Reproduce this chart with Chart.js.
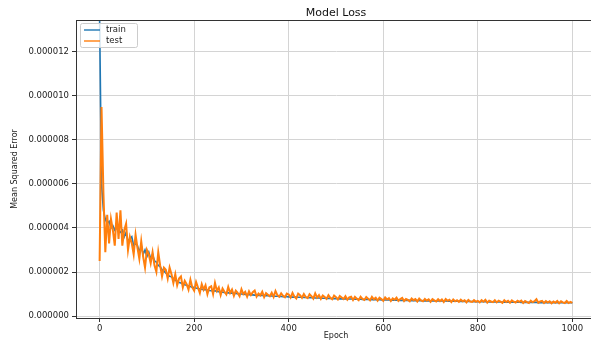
<!DOCTYPE html>
<html>
<head>
<meta charset="utf-8">
<script src="https://cdn.jsdelivr.net/npm/chart.js@4.4.1/dist/chart.umd.min.js"></script>
<style>
  html, body { margin: 0; padding: 0; background: #fff; overflow: hidden; }
  canvas { display: block; }
</style>
</head>
<body>
<canvas id="lossChart" width="600" height="341"></canvas>
<script>
// loss values are in units of 1e-6, one value every 4 epochs
var epochStep = 4;
var chartTitle = 'Model Loss';
var seriesNames = ['train', 'test'];
var xTicks = [0, 200, 400, 600, 800, 1000];
var yTicks = [0, 2, 4, 6, 8, 10, 12];

var trainLoss = [
  13.4, 6.0, 4.8, 4.4, 4.2, 4.3, 4.0, 4.1, 3.9, 4.0,
  3.9, 3.8, 3.9, 3.6, 3.8, 3.4, 3.5, 3.6, 3.2, 3.3,
  3.2, 2.9, 3.2, 2.8, 3.0, 2.7, 2.9, 2.6, 2.8, 2.5,
  2.45, 2.3, 2.25, 2.1, 2.05, 1.95, 1.9, 1.8, 1.78, 1.7,
  1.62, 1.58, 1.52, 1.5, 1.45, 1.42, 1.4, 1.36, 1.34, 1.3,
  1.3, 1.27, 1.25, 1.23, 1.22, 1.2, 1.19, 1.18, 1.16, 1.15,
  1.14, 1.15, 1.12, 1.1, 1.11, 1.08, 1.07, 1.06, 1.05, 1.05,
  1.04, 1.03, 1.02, 1.01, 1.0, 1.0, 0.99, 0.98, 0.98, 0.97,
  0.96, 0.96, 0.95, 0.95, 0.94, 0.94, 0.93, 0.93, 0.92, 0.92,
  0.91, 0.91, 0.9, 0.9, 0.9, 0.89, 0.89, 0.88, 0.88, 0.88,
  0.87, 0.87, 0.86, 0.86, 0.86, 0.85, 0.85, 0.85, 0.84, 0.84,
  0.84, 0.83, 0.83, 0.83, 0.82, 0.82, 0.82, 0.81, 0.81, 0.81,
  0.8, 0.8, 0.8, 0.79, 0.79, 0.79, 0.79, 0.78, 0.78, 0.78,
  0.78, 0.77, 0.77, 0.77, 0.77, 0.76, 0.76, 0.76, 0.76, 0.75,
  0.75, 0.75, 0.75, 0.75, 0.74, 0.74, 0.74, 0.74, 0.74, 0.73,
  0.73, 0.73, 0.73, 0.73, 0.72, 0.72, 0.72, 0.72, 0.72, 0.71,
  0.71, 0.71, 0.71, 0.71, 0.71, 0.7, 0.7, 0.7, 0.7, 0.7,
  0.7, 0.69, 0.69, 0.69, 0.69, 0.69, 0.69, 0.68, 0.68, 0.68,
  0.68, 0.68, 0.68, 0.68, 0.67, 0.67, 0.67, 0.67, 0.67, 0.67,
  0.67, 0.66, 0.66, 0.66, 0.66, 0.66, 0.66, 0.66, 0.65, 0.65,
  0.65, 0.65, 0.65, 0.65, 0.65, 0.65, 0.64, 0.64, 0.64, 0.64,
  0.64, 0.64, 0.64, 0.64, 0.63, 0.63, 0.63, 0.63, 0.63, 0.63,
  0.63, 0.63, 0.63, 0.62, 0.62, 0.62, 0.62, 0.62, 0.62, 0.62,
  0.62, 0.62, 0.61, 0.61, 0.61, 0.61, 0.61, 0.61, 0.61, 0.61,
  0.61, 0.6, 0.6, 0.6, 0.6, 0.6, 0.6, 0.6, 0.6, 0.6,
  0.6
];

var testLoss = [
  2.5, 9.5, 5.6, 2.9, 4.6, 3.3, 4.4, 3.9, 3.2, 4.7,
  3.5, 4.8, 3.2, 3.9, 4.2, 3.0, 3.6, 3.3, 2.8, 3.7,
  3.1, 2.6, 3.4, 2.7, 2.2, 3.0, 2.8, 2.4, 2.9, 2.3,
  2.0, 2.9, 2.3, 1.8, 2.2, 2.1, 1.7, 2.2, 1.9, 1.5,
  1.9, 1.4, 1.7, 1.8, 1.3, 1.6, 1.45, 1.2, 1.65, 1.3,
  1.15, 1.55, 1.3, 1.05, 1.45, 1.2, 1.4, 1.0, 1.3, 1.35,
  1.0, 1.5, 1.15, 1.3, 0.95, 1.25, 1.1, 0.98, 1.32, 1.05,
  1.2, 0.92, 1.15, 1.05, 0.9, 1.22, 1.0, 1.1, 0.88, 1.12,
  0.95, 1.08, 1.16, 0.88, 1.02, 0.94, 1.1, 0.86, 1.04, 0.97,
  0.9, 1.06, 0.87, 1.14, 0.95, 0.88, 1.03, 0.92, 0.85, 1.02,
  0.98, 0.84, 1.05, 0.88, 0.8, 1.02, 0.95, 0.83, 1.0, 0.86,
  0.81, 0.99, 0.9, 0.79, 1.03, 0.84, 0.95, 0.78, 0.93, 0.86,
  0.78, 0.95, 0.83, 0.76, 0.93, 0.86, 0.75, 0.91, 0.84, 0.77,
  0.9, 0.74, 0.85, 0.88, 0.73, 0.87, 0.79, 0.72, 0.88, 0.78,
  0.73, 0.86, 0.79, 0.71, 0.87, 0.76, 0.83, 0.7, 0.83, 0.77,
  0.69, 0.84, 0.75, 0.81, 0.68, 0.8, 0.74, 0.83, 0.69, 0.77,
  0.82, 0.68, 0.77, 0.73, 0.67, 0.8, 0.72, 0.77, 0.66, 0.79,
  0.71, 0.67, 0.78, 0.7, 0.76, 0.65, 0.77, 0.71, 0.66, 0.76,
  0.68, 0.75, 0.64, 0.77, 0.69, 0.74, 0.63, 0.75, 0.67, 0.72,
  0.64, 0.74, 0.67, 0.72, 0.62, 0.73, 0.66, 0.64, 0.72, 0.65,
  0.69, 0.62, 0.72, 0.65, 0.74, 0.61, 0.7, 0.66, 0.63, 0.72,
  0.62, 0.7, 0.65, 0.6, 0.72, 0.64, 0.69, 0.6, 0.71, 0.65,
  0.61, 0.69, 0.64, 0.7, 0.59, 0.68, 0.63, 0.59, 0.7, 0.63,
  0.67, 0.76, 0.6, 0.66, 0.69, 0.59, 0.68, 0.61, 0.67, 0.58,
  0.66, 0.6, 0.68, 0.58, 0.67, 0.62, 0.59, 0.68, 0.59, 0.64,
  0.6
];

var seriesColors = ['#1f77b4', '#ff7f0e'];

function toPoints(arr) {
  return arr.map(function (v, i) { return { x: i * epochStep, y: v }; });
}

// draws the title, the box round the plot and a matplotlib-like legend
var framePlugin = {
  id: 'frame',
  afterDraw: function (chart) {
    var ctx = chart.ctx;
    var a = chart.chartArea;
    ctx.save();
    ctx.strokeStyle = '#333';
    ctx.lineWidth = 1;
    ctx.strokeRect(a.left + 0.5, a.top + 0.5, a.right - a.left - 1, a.bottom - a.top);

    ctx.fillStyle = '#111';
    ctx.font = '11px "DejaVu Sans"';
    ctx.textAlign = 'center';
    ctx.textBaseline = 'middle';
    ctx.fillText(chartTitle, (a.left + a.right) / 2, 13);

    // legend
    var lx = a.left + 4, ly = a.top + 3, lw = 57, lh = 24;
    ctx.fillStyle = 'rgba(255,255,255,0.8)';
    ctx.strokeStyle = '#cccccc';
    ctx.beginPath();
    ctx.roundRect(lx + 0.5, ly + 0.5, lw, lh, 2);
    ctx.fill();
    ctx.stroke();
    ctx.font = '8.5px "DejaVu Sans"';
    ctx.textAlign = 'left';
    for (var i = 0; i < seriesNames.length; i++) {
      var yy = ly + 7 + i * 11;
      ctx.strokeStyle = seriesColors[i];
      ctx.lineWidth = 1.4;
      ctx.beginPath();
      ctx.moveTo(lx + 4, yy);
      ctx.lineTo(lx + 20, yy);
      ctx.stroke();
      ctx.fillStyle = '#222';
      ctx.fillText(seriesNames[i], lx + 26, yy);
    }
    ctx.restore();
  }
};

var tickFont = { family: 'DejaVu Sans', size: 8.5 };
var labelFont = { family: 'DejaVu Sans', size: 8 };

var config = {
  type: 'line',
  data: {
    datasets: [{
      label: seriesNames[0],
      data: toPoints(trainLoss),
      borderColor: seriesColors[0],
      borderWidth: 1.6,
      pointRadius: 0,
      fill: false,
      order: 1
    }, {
      label: seriesNames[1],
      data: toPoints(testLoss),
      borderColor: seriesColors[1],
      borderWidth: 2,
      pointRadius: 0,
      fill: false,
      order: 0
    }]
  },
  options: {
    responsive: false,
    animation: false,
    layout: { padding: { top: 20, left: 0, right: 4, bottom: 0 } },
    plugins: {
      legend: { display: false },
      tooltip: { enabled: false }
    },
    scales: {
      x: {
        type: 'linear',
        min: -50,
        max: 1050,
        afterBuildTicks: function (s) { s.ticks = xTicks.map(function (v) { return { value: v }; }); },
        afterFit: function (s) { s.height = 23; },
        grid: { color: '#d4d4d4', tickColor: '#333', tickLength: 4 },
        border: { color: '#333' },
        ticks: { font: tickFont, color: '#222', padding: 2, maxRotation: 0, callback: function (v) { return String(v); } },
        title: { display: true, text: 'Epoch', font: labelFont, color: '#222', padding: { top: 0, bottom: 0 } }
      },
      y: {
        min: -0.09,
        max: 13.45,
        afterBuildTicks: function (s) { s.ticks = yTicks.map(function (v) { return { value: v }; }); },
        afterFit: function (s) { s.width = 76; },
        grid: { color: '#d4d4d4', tickColor: '#333', tickLength: 4 },
        border: { color: '#333' },
        ticks: {
          font: tickFont,
          color: '#222',
          padding: 3,
          callback: function (v) { return (v / 1e6).toFixed(6); }
        },
        title: { display: true, text: 'Mean Squared Error', font: labelFont, color: '#222', padding: { top: 10, bottom: 0 } }
      }
    }
  },
  plugins: [framePlugin]
};

var lossChart = new Chart(document.getElementById('lossChart'), config);
</script>
</body>
</html>
